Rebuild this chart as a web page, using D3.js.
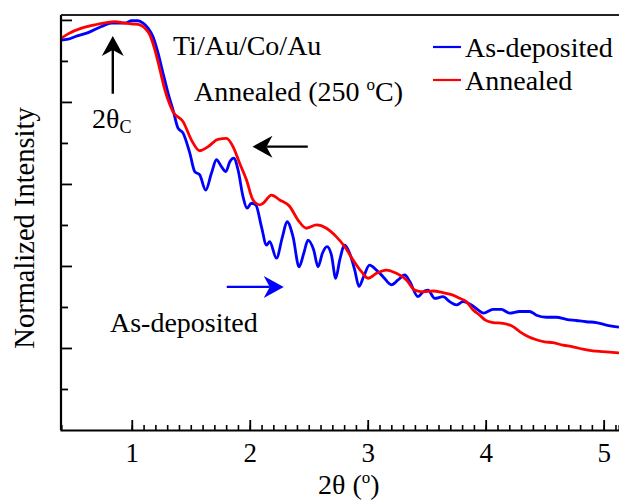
<!DOCTYPE html>
<html>
<head>
<meta charset="utf-8">
<script src="https://cdn.jsdelivr.net/npm/d3@7"></script>
<style>
  body { margin: 0; background: #fff; }
  svg text { font-family: "Liberation Serif", "Times New Roman", serif; fill: #000; }
</style>
</head>
<body>
<svg id="chart" width="619" height="500"></svg>
<script>
// As-deposited curve: 2theta (deg), normalized intensity
const depX = [0.40, 0.46, 0.517, 0.63, 0.743, 0.828, 0.898, 0.955, 0.997, 1.053, 1.096, 1.138, 1.18, 1.223, 1.265, 1.308, 1.35,
  1.392, 1.435, 1.492, 1.534, 1.576, 1.627, 1.675, 1.718, 1.76, 1.797, 1.831, 1.864, 1.901, 1.943, 1.977, 2.014, 2.051,
  2.099, 2.142, 2.169, 2.226, 2.277, 2.316, 2.367, 2.418, 2.458, 2.494, 2.542, 2.579, 2.616, 2.655, 2.692, 2.729, 2.763,
  2.805, 2.847, 2.89, 2.926, 2.965, 3.015, 3.074, 3.13, 3.201, 3.257, 3.314, 3.356, 3.426, 3.469, 3.511, 3.568, 3.638,
  3.695, 3.752, 3.808, 3.879, 3.935, 3.982, 4.062, 4.133, 4.203, 4.288, 4.372, 4.43, 4.514, 4.599, 4.684, 4.769, 4.853,
  4.938, 5.023, 5.13]
const depY = [0.951, 0.953, 0.959, 0.969, 0.984, 0.992, 0.992, 0.993, 0.998, 0.998, 0.992, 0.98, 0.959, 0.919, 0.87, 0.821, 0.78,
  0.736, 0.724, 0.675, 0.63, 0.622, 0.585, 0.626, 0.659, 0.642, 0.63, 0.654, 0.663, 0.634, 0.569, 0.541, 0.553, 0.549,
  0.496, 0.451, 0.459, 0.419, 0.471, 0.508, 0.471, 0.398, 0.431, 0.463, 0.439, 0.398, 0.431, 0.447, 0.427, 0.37, 0.415,
  0.451, 0.431, 0.39, 0.35, 0.374, 0.402, 0.39, 0.374, 0.354, 0.366, 0.378, 0.362, 0.325, 0.337, 0.341, 0.321, 0.325,
  0.313, 0.305, 0.313, 0.305, 0.293, 0.285, 0.294, 0.294, 0.285, 0.289, 0.289, 0.28, 0.275, 0.275, 0.27, 0.267, 0.264,
  0.262, 0.256, 0.251]

// Annealed (250 C) curve
const annX = [0.40, 0.46, 0.574, 0.686, 0.771, 0.856, 0.941, 1.011, 1.068, 1.111, 1.154, 1.196, 1.239, 1.281, 1.323, 1.35,
  1.435, 1.506, 1.576, 1.647, 1.731, 1.803, 1.858, 1.915, 1.972, 2.028, 2.085, 2.113, 2.184, 2.254, 2.339, 2.409, 2.481,
  2.565, 2.65, 2.735, 2.805, 2.875, 2.947, 3.003, 3.074, 3.158, 3.243, 3.328, 3.398, 3.469, 3.553, 3.638, 3.723, 3.78,
  3.836, 3.892, 3.949, 3.997, 4.062, 4.147, 4.232, 4.288, 4.358, 4.43, 4.5, 4.57, 4.655, 4.74, 4.825, 4.908, 4.994, 5.13]
const annY = [0.955, 0.966, 0.98, 0.988, 0.993, 0.996, 0.992, 0.99, 0.988, 0.98, 0.963, 0.927, 0.878, 0.829, 0.793, 0.776,
  0.752, 0.707, 0.681, 0.691, 0.709, 0.711, 0.691, 0.65, 0.61, 0.561, 0.549, 0.553, 0.573, 0.561, 0.545, 0.512, 0.492,
  0.5, 0.492, 0.471, 0.447, 0.415, 0.386, 0.37, 0.382, 0.39, 0.382, 0.366, 0.341, 0.337, 0.339, 0.335, 0.329, 0.321,
  0.313, 0.293, 0.28, 0.268, 0.262, 0.26, 0.252, 0.24, 0.228, 0.22, 0.215, 0.213, 0.207, 0.203, 0.197, 0.193, 0.191, 0.188]

const xTicks = [1, 2, 3, 4, 5]
const xMinor = d3.range(10, 52).map(d => d / 10)
const yMajor = [0.2, 0.4, 0.6, 0.8, 1.0]
const yMinor = [0.1, 0.3, 0.5, 0.7, 0.9]
const seriesNames = ['As-deposited', 'Annealed']
const seriesColors = ['#0000ff', '#ff0000']

const LEFT = 61
const TOP = 15
const BOTTOM = 430
const RIGHT = 619

let svg = d3.select('#chart')
let xScale = d3.scaleLinear().domain([0.4, 5.13]).range([LEFT, RIGHT])
let yScale = d3.scaleLinear().domain([0, 1.012]).range([BOTTOM, TOP])

svg.append('defs').append('clipPath').attr('id', 'plot-clip')
  .append('rect')
  .attr('x', LEFT).attr('y', TOP)
  .attr('width', RIGHT - LEFT).attr('height', BOTTOM - TOP)

// curves
let lineGen = d3.line()
  .x(d => xScale(d[0]))
  .y(d => yScale(d[1]))
  .curve(d3.curveMonotoneX)
let chart = svg.append('g').attr('clip-path', 'url(#plot-clip)')
let series = [d3.zip(depX, depY), d3.zip(annX, annY)]
series.forEach((pts, i) => {
  chart.append('path')
    .attr('d', lineGen(pts))
    .attr('fill', 'none')
    .attr('stroke', seriesColors[i])
    .attr('stroke-width', 2.8)
    .attr('stroke-linejoin', 'round')
})

// axes
let xAxis = svg.append('g').attr('transform', `translate(0,${BOTTOM})`)
xAxis.call(d3.axisBottom(xScale).tickValues(xMinor).tickSize(-5).tickFormat(''))
xAxis.call(g => g.selectAll('.tick line').attr('stroke-width', 1.6))
let xMaj = svg.append('g').attr('transform', `translate(0,${BOTTOM})`)
xMaj.call(d3.axisBottom(xScale).tickValues(xTicks).tickSize(-10).tickPadding(13).tickFormat(d3.format('d')))
xMaj.select('.domain').remove()
xMaj.selectAll('.tick line').attr('stroke-width', 1.8)
xMaj.selectAll('.tick text').style('font-size', '27px').style('font-family', 'Liberation Serif')
xAxis.select('.domain').attr('stroke-width', 2.2)

let yAxis = svg.append('g').attr('transform', `translate(${LEFT},0)`)
yAxis.call(d3.axisLeft(yScale).tickValues(yMinor).tickSize(-7).tickFormat(''))
yAxis.selectAll('.tick line').attr('stroke-width', 1.8)
yAxis.select('.domain').attr('stroke-width', 2.2).attr('d', `M0,${TOP}V${BOTTOM}`)
let yMaj = svg.append('g').attr('transform', `translate(${LEFT},0)`)
yMaj.call(d3.axisLeft(yScale).tickValues(yMajor).tickSize(-11).tickFormat(''))
yMaj.select('.domain').remove()
yMaj.selectAll('.tick line').attr('stroke-width', 1.8)

// top frame
svg.append('line')
  .attr('x1', LEFT).attr('x2', RIGHT)
  .attr('y1', TOP).attr('y2', TOP)
  .attr('stroke', '#222').attr('stroke-width', 2.2)

// axis titles
let xTitle = svg.append('text')
  .attr('x', 318).attr('y', 494)
  .style('font-size', '28px')
xTitle.append('tspan').text('2θ (')
xTitle.append('tspan').text('o').style('font-size', '17px').attr('dy', -11)
xTitle.append('tspan').text(')').attr('dy', 11)

svg.append('text')
  .attr('transform', 'translate(34,228) rotate(-90)')
  .attr('text-anchor', 'middle')
  .style('font-size', '28.5px')
  .text('Normalized Intensity')

// legend
seriesNames.forEach((name, i) => {
  let ly = 47 + i * 33
  svg.append('line')
    .attr('x1', 433).attr('x2', 461)
    .attr('y1', ly).attr('y2', ly)
    .attr('stroke', seriesColors[i]).attr('stroke-width', 2.2)
  svg.append('text')
    .attr('x', 465).attr('y', ly + 10)
    .style('font-size', '28px')
    .text(name)
})

// annotations
svg.append('text').attr('x', 173).attr('y', 55).style('font-size', '28px').text('Ti/Au/Co/Au')
let ann = svg.append('text').attr('x', 194).attr('y', 101).style('font-size', '28px')
ann.append('tspan').text('Annealed (250 ')
ann.append('tspan').text('o').style('font-size', '17px').attr('dy', -11)
ann.append('tspan').text('C)').attr('dy', 11)

let tc = svg.append('text').attr('x', 92).attr('y', 128).style('font-size', '28px')
tc.append('tspan').text('2θ')
tc.append('tspan').text('C').style('font-size', '18px').attr('dy', 5)

svg.append('text').attr('x', 110).attr('y', 332).style('font-size', '28px').text('As-deposited')

// arrows: [x1, y1, x2, y2] in data units, tip at the second point
let drawArrow = function (x1, y1, x2, y2, color) {
  let px1 = xScale(x1), py1 = yScale(y1), px2 = xScale(x2), py2 = yScale(y2)
  let ang = Math.atan2(py2 - py1, px2 - px1)
  let len = 20, half = 11, notch = 14
  let ux = Math.cos(ang), uy = Math.sin(ang)
  let bx = px2 - ux * len, by = py2 - uy * len
  let nx = px2 - ux * notch, ny = py2 - uy * notch
  svg.append('line')
    .attr('x1', px1).attr('y1', py1).attr('x2', nx).attr('y2', ny)
    .attr('stroke', color).attr('stroke-width', 2.4)
  svg.append('path')
    .attr('d', `M${px2},${py2}L${bx - uy * half},${by + ux * half}L${nx},${ny}L${bx + uy * half},${by - ux * half}Z`)
    .attr('fill', color)
}
drawArrow(0.839, 0.82, 0.839, 0.961, '#000')
drawArrow(2.492, 0.691, 2.023, 0.691, '#000')
drawArrow(1.805, 0.349, 2.288, 0.349, '#0000ff')
</script>
</body>
</html>
